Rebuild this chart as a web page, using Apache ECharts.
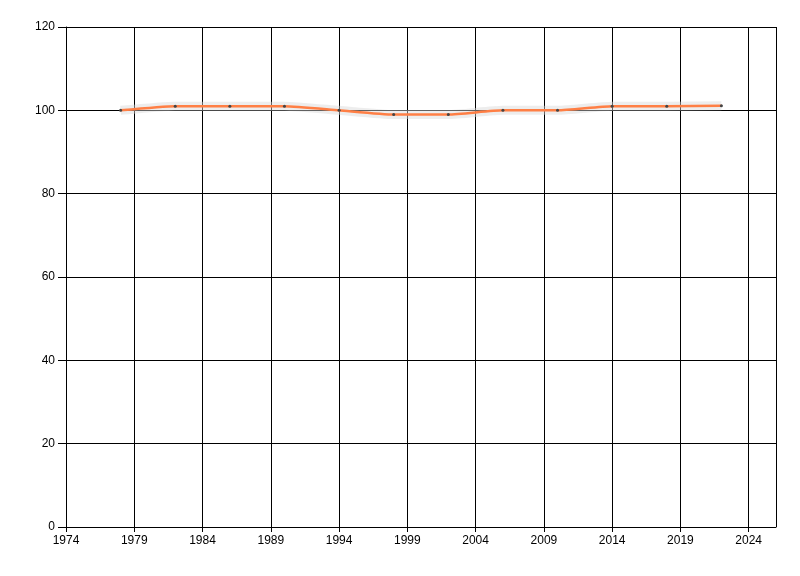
<!DOCTYPE html>
<html>
<head>
<meta charset="utf-8">
<script src="https://cdn.jsdelivr.net/npm/echarts@6/dist/echarts.min.js"></script>
<style>html,body{margin:0;padding:0;background:#fff}#c{width:800px;height:576px}</style>
</head>
<body>
<div id="c"></div>
<script>
const baseYear = 1974;
const years = [1978, 1982, 1986, 1990, 1994, 1998, 2002, 2006, 2010, 2014, 2018, 2022];
const values = [100, 101, 101, 101, 100, 99, 99, 100, 100, 101, 101, 101.1];
const yTicks = [0, 20, 40, 60, 80, 100, 120];

const pts = years.map((y, i) => [y - baseYear, values[i]]);
const chart = echarts.init(document.getElementById('c'));
const axisText = { color: '#000', fontSize: 12, fontFamily: 'Liberation Sans, Arial, sans-serif' };
chart.setOption({
  animation: false,
  grid: { left: 66, right: 24, top: 27, bottom: 49, containLabel: false },
  xAxis: {
    type: 'value', min: 0, max: 52, interval: 5,
    axisLine: { show: true, lineStyle: { color: '#000', width: 1 } },
    axisTick: { show: true, length: 5, lineStyle: { color: '#000' } },
    splitLine: { show: true, lineStyle: { color: '#000', width: 1 } },
    axisLabel: Object.assign({
      margin: 8,
      showMaxLabel: false,
      formatter: v => (v % 5 === 0 ? String(v + baseYear) : '')
    }, axisText)
  },
  yAxis: {
    type: 'value', min: yTicks[0], max: yTicks[yTicks.length - 1], interval: 20,
    axisLine: { show: true, lineStyle: { color: '#000', width: 1 } },
    axisTick: { show: true, length: 8, lineStyle: { color: '#000' } },
    splitLine: { show: true, lineStyle: { color: '#000', width: 1 } },
    axisLabel: Object.assign({ margin: 11 }, axisText)
  },
  series: [
    {
      type: 'line', data: pts, smooth: 0.18, symbol: 'none', silent: true,
      lineStyle: { color: 'rgba(215,215,215,0.45)', width: 9 }, z: 1
    },
    {
      type: 'line', data: pts, smooth: 0.18, symbol: 'circle', symbolSize: 3,
      itemStyle: { color: '#444' },
      lineStyle: { color: '#FF7F45', width: 2.5 }, z: 3
    }
  ]
});
</script>
</body>
</html>
